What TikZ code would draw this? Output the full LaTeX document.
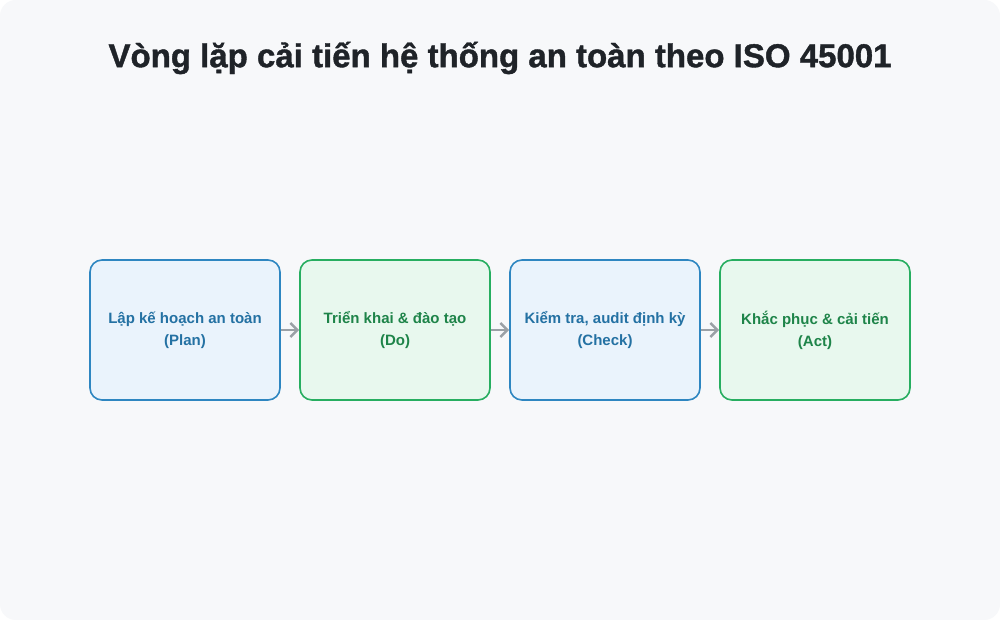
\documentclass[tikz,border=0pt]{standalone}
\usepackage{fontspec}
\setmainfont{Liberation Sans}
\newfontfamily\titlefont[BoldFeatures={FakeBold=1.2}]{Liberation Sans}
\usetikzlibrary{arrows.meta}
\definecolor{bgc}{HTML}{F7F8FA}
\definecolor{bluestroke}{HTML}{2E86C1}
\definecolor{bluefill}{HTML}{EAF3FC}
\definecolor{bluetext}{HTML}{2471A3}
\definecolor{greenstroke}{HTML}{27AE60}
\definecolor{greenfill}{HTML}{E8F8EE}
\definecolor{greentext}{HTML}{1E8449}
\definecolor{titlec}{HTML}{1F2328}
\definecolor{arrowc}{HTML}{9AA0A6}
\tikzset{
  x=1pt,y=1pt,
  stagebox/.style={draw, line width=1.6pt, rounded corners=12pt, minimum width=190pt, minimum height=140pt, align=center, font=\bfseries\fontsize{15}{22}\selectfont, inner sep=0pt},
  bluebox/.style={stagebox, draw=bluestroke, fill=bluefill, text=bluetext},
  greenbox/.style={stagebox, draw=greenstroke, fill=greenfill, text=greentext},
  flow/.style={draw=arrowc, line width=2.5pt, -{Straight Barb[length=7pt,width=14pt,line width=2.5pt]}}
}
\begin{document}
\begin{tikzpicture}
\useasboundingbox (0,0) rectangle (1000,620);
\fill[white] (0,0) rectangle (1000,620);
\fill[bgc, rounded corners=16pt] (0,0) rectangle (1000,620);
\node[font=\titlefont\bfseries\fontsize{33}{40}\selectfont, text=titlec] (title) at (500,562) {Vòng lặp cải tiến hệ thống an toàn theo ISO 45001};
\node[bluebox] (plan) at (185,290) {Lập kế hoạch an toàn\\(Plan)};
\node[greenbox] (do) at (395,290) {Triển khai \& đào tạo\\(Do)};
\node[bluebox] (check) at (605,290) {Kiểm tra, audit định kỳ\\(Check)};
\node[greenbox] (act) at (815,290) {Khắc phục \& cải tiến\\(Act)};
\draw[flow] (plan.east) -- (do.west);
\draw[flow] (do.east) -- (check.west);
\draw[flow] (check.east) -- (act.west);
\end{tikzpicture}
\end{document}
